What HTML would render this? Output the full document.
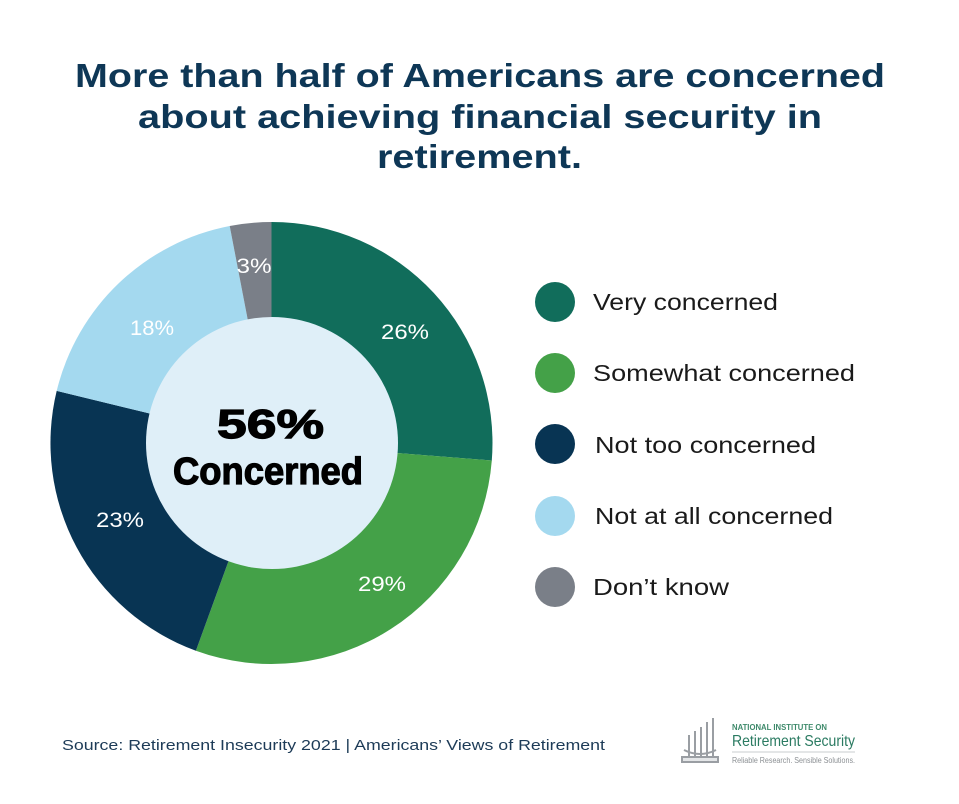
<!DOCTYPE html>
<html>
<head>
<meta charset="utf-8">
<style>
  html,body{margin:0;padding:0;background:#ffffff;}
  svg{display:block;}
  text{font-family:"Liberation Sans", Arial, sans-serif;}
</style>
</head>
<body>
<svg width="959" height="804" viewBox="0 0 959 804" xmlns="http://www.w3.org/2000/svg">
  <rect width="959" height="804" fill="#ffffff"/>

  <!-- Title -->
  <g fill="#0e3756" font-weight="bold" font-size="33">
    <text x="75" y="87" textLength="810" lengthAdjust="spacingAndGlyphs">More than half of Americans are concerned</text>
    <text x="138" y="128" textLength="684" lengthAdjust="spacingAndGlyphs">about achieving financial security in</text>
    <text x="377" y="168" textLength="205" lengthAdjust="spacingAndGlyphs">retirement.</text>
  </g>

  <!-- Donut -->
  <g>
    <path d="M271.5,443 L271.5,222 A221,221 0 0,1 491.8,460.5 Z" fill="#116d5b"/>
    <path d="M271.5,443 L491.8,460.5 A221,221 0 0,1 195.9,650.7 Z" fill="#44a148"/>
    <path d="M271.5,443 L195.9,650.7 A221,221 0 0,1 56.7,390.9 Z" fill="#083453"/>
    <path d="M271.5,443 L56.7,390.9 A221,221 0 0,1 229.7,226.0 Z" fill="#a4d9ef"/>
    <path d="M271.5,443 L229.7,226.0 A221,221 0 0,1 271.5,222 Z" fill="#7a7f88"/>
    <circle cx="272" cy="443" r="126" fill="#dfeff8"/>
  </g>

  <!-- Slice labels -->
  <g fill="#ffffff" font-size="21" text-anchor="middle">
    <text x="405" y="339" textLength="48" lengthAdjust="spacingAndGlyphs">26%</text>
    <text x="382" y="591" textLength="48" lengthAdjust="spacingAndGlyphs">29%</text>
    <text x="120" y="527" textLength="48" lengthAdjust="spacingAndGlyphs">23%</text>
    <text x="152" y="335" textLength="44" lengthAdjust="spacingAndGlyphs">18%</text>
    <text x="254" y="273" textLength="35" lengthAdjust="spacingAndGlyphs">3%</text>
  </g>

  <!-- Center text -->
  <g fill="#000000" stroke="#000000" stroke-width="1.2" font-weight="bold">
    <text x="217" y="438" font-size="41" textLength="107" lengthAdjust="spacingAndGlyphs">56%</text>
    <text x="173" y="484" font-size="38" textLength="190" lengthAdjust="spacingAndGlyphs">Concerned</text>
  </g>

  <!-- Legend -->
  <g>
    <circle cx="555" cy="302" r="20" fill="#116d5b"/>
    <circle cx="555" cy="373" r="20" fill="#44a148"/>
    <circle cx="555" cy="444" r="20" fill="#083453"/>
    <circle cx="555" cy="516" r="20" fill="#a4d9ef"/>
    <circle cx="555" cy="587" r="20" fill="#7a7f88"/>
  </g>
  <g fill="#1a1a1a" font-size="23">
    <text x="593" y="310" textLength="185" lengthAdjust="spacingAndGlyphs">Very concerned</text>
    <text x="593" y="381" textLength="262" lengthAdjust="spacingAndGlyphs">Somewhat concerned</text>
    <text x="595" y="453" textLength="221" lengthAdjust="spacingAndGlyphs">Not too concerned</text>
    <text x="595" y="524" textLength="238" lengthAdjust="spacingAndGlyphs">Not at all concerned</text>
    <text x="593" y="595" textLength="136" lengthAdjust="spacingAndGlyphs">Don’t know</text>
  </g>

  <!-- Source -->
  <text x="62" y="750" fill="#1d3b57" font-size="15" textLength="543" lengthAdjust="spacingAndGlyphs">Source: Retirement Insecurity 2021 | Americans’ Views of Retirement</text>

  <!-- Logo -->
  <g stroke="#9a9ea3" stroke-width="2" fill="none">
    <line x1="689" y1="757" x2="689" y2="735"/>
    <line x1="695" y1="757" x2="695" y2="731"/>
    <line x1="701" y1="757" x2="701" y2="727"/>
    <line x1="707" y1="757" x2="707" y2="722"/>
    <line x1="713" y1="757" x2="713" y2="718"/>
    <path d="M684,750 Q700,758 716,750" />
    <path d="M682,757 L718,757 L718,762 L682,762 Z" fill="#e4e6e8"/>
  </g>
  <text x="732" y="730" fill="#3e8a6b" font-size="8" font-weight="bold" textLength="95" lengthAdjust="spacingAndGlyphs">NATIONAL INSTITUTE ON</text>
  <text x="732" y="746" fill="#2b7b62" font-size="16" textLength="123" lengthAdjust="spacingAndGlyphs">Retirement Security</text>
  <line x1="732" y1="752" x2="855" y2="752" stroke="#c9cccf" stroke-width="1"/>
  <text x="732" y="763" fill="#8c9094" font-size="8" textLength="123" lengthAdjust="spacingAndGlyphs">Reliable Research. Sensible Solutions.</text>
</svg>
</body>
</html>
